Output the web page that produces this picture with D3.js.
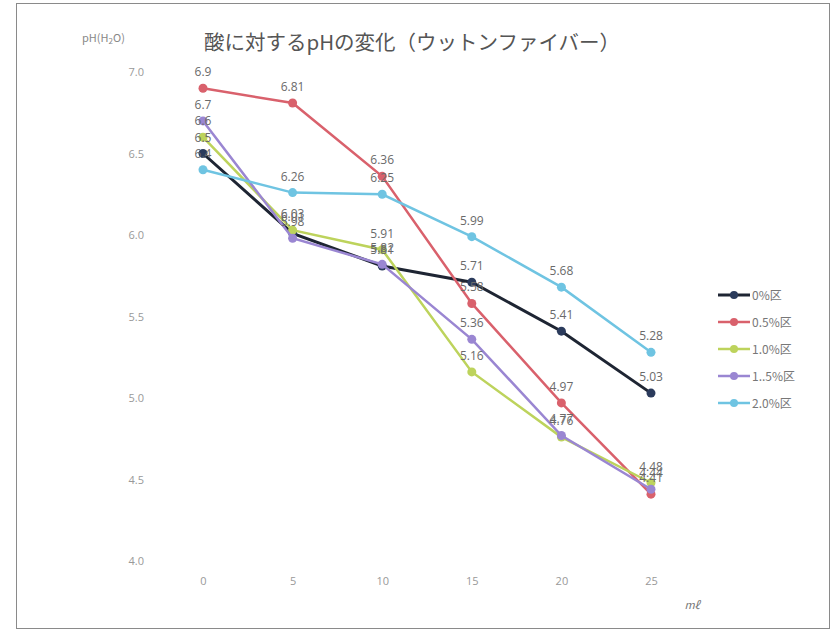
<!DOCTYPE html>
<html><head><meta charset="utf-8">
<script src="https://cdn.jsdelivr.net/npm/d3@7"></script>
<style>body{margin:0;background:#fff}svg{display:block}</style>
</head><body>
<svg id="c" width="834" height="633"></svg>
<script>
const xValues = [0, 5, 10, 15, 20, 25];
const seriesNames = ["0%区", "0.5%区", "1.0%区", "1..5%区", "2.0%区"];
const s0 = [6.5, 6.01, 5.81, 5.71, 5.41, 5.03];
const s05 = [6.9, 6.81, 6.36, 5.58, 4.97, 4.41];
const s10 = [6.6, 6.03, 5.91, 5.16, 4.76, 4.48];
const s15 = [6.7, 5.98, 5.82, 5.36, 4.77, 4.44];
const s20 = [6.4, 6.26, 6.25, 5.99, 5.68, 5.28];
const yTicks = [4.0, 4.5, 5.0, 5.5, 6.0, 6.5, 7.0];
const colors = ["#1e2533", "#d9616c", "#bdd35c", "#9a86d2", "#6fc4e2"];
const markerColors = ["#2b3b5c", "#d9616c", "#bdd35c", "#9a86d2", "#6fc4e2"];
const title = "酸に対するpHの変化（ウットンファイバー）";

const svg = d3.select("#c");
const series = [s0, s05, s10, s15, s20].map((v, i) => ({name: seriesNames[i], values: v, color: colors[i], mcolor: markerColors[i]}));

svg.append("rect").attr("x", 16.5).attr("y", 3.5).attr("width", 813).attr("height", 625)
  .attr("fill", "none").attr("stroke", "#8a8a8a").attr("stroke-width", 1);

const x = d3.scaleLinear().domain([0, 25]).range([203, 651]);
const y = d3.scaleLinear().domain([4, 7]).range([561, 72]);

svg.append("text").attr("x", 412).attr("y", 50).attr("text-anchor", "middle")
  .attr("font-family", "'Noto Sans CJK JP', sans-serif").attr("font-size", 20.5).attr("fill", "#555")
  .text(title);

const yl = svg.append("text").attr("x", 82).attr("y", 42)
  .attr("font-family", "'Noto Sans CJK JP', sans-serif").attr("font-size", 11).attr("fill", "#888");
yl.append("tspan").text("pH(H");
yl.append("tspan").attr("font-size", 8).attr("dy", 2).text("2");
yl.append("tspan").attr("dy", -2).text("O)");

// y axis
const yAxis = d3.axisLeft(y).tickValues(yTicks).tickFormat(d3.format(".1f")).tickSize(0).tickPadding(0);
const gy = svg.append("g").attr("transform", "translate(144,0)").call(yAxis);
gy.select(".domain").remove();
gy.selectAll("text").attr("font-family", "'Open Sans', sans-serif").attr("font-size", 11).attr("fill", "#999");

// x axis
const xAxis = d3.axisBottom(x).tickValues(xValues).tickFormat(d3.format("d")).tickSize(0).tickPadding(0);
const gx = svg.append("g").attr("transform", "translate(0,577)").call(xAxis);
gx.select(".domain").remove();
gx.selectAll("text").attr("font-family", "'Open Sans', sans-serif").attr("font-size", 11).attr("fill", "#999");

svg.append("text").attr("x", 692).attr("y", 609).attr("text-anchor", "middle")
  .attr("font-family", "'Noto Sans CJK JP', serif").attr("font-size", 11).attr("font-style", "italic").attr("fill", "#777")
  .text("mℓ");

const line = d3.line().x((d, i) => x(xValues[i])).y(d => y(d));

series.forEach((s, i) => {
  const g = svg.append("g");
  g.append("path").attr("d", line(s.values)).attr("fill", "none")
    .attr("stroke", s.color).attr("stroke-width", i === 0 ? 3 : 2.5);
  g.selectAll("circle").data(s.values).join("circle")
    .attr("cx", (d, j) => x(xValues[j])).attr("cy", d => y(d)).attr("r", 4.5)
    .attr("fill", s.mcolor);
});
series.forEach((s, i) => {
  svg.append("g").selectAll("text").data(s.values).join("text")
    .attr("x", (d, j) => x(xValues[j])).attr("y", d => y(d) - 12)
    .attr("text-anchor", "middle")
    .attr("font-family", "'Open Sans', sans-serif").attr("font-size", 12).attr("fill", "#6a6a6a")
    .text(d => String(d));
});

// legend
const lg = svg.append("g").attr("transform", "translate(718,295)");
series.forEach((s, i) => {
  const row = lg.append("g").attr("transform", `translate(0,${i * 27})`);
  row.append("line").attr("x1", 0).attr("x2", 32).attr("y1", 0).attr("y2", 0)
    .attr("stroke", s.color).attr("stroke-width", i === 0 ? 3 : 2.5);
  row.append("circle").attr("cx", 16).attr("cy", 0).attr("r", 4).attr("fill", s.mcolor);
  row.append("text").attr("x", 34).attr("y", 4.5)
    .attr("font-family", "'Noto Sans CJK JP', sans-serif").attr("font-size", 12).attr("fill", "#777")
    .text(s.name);
});
</script>
</body></html>
